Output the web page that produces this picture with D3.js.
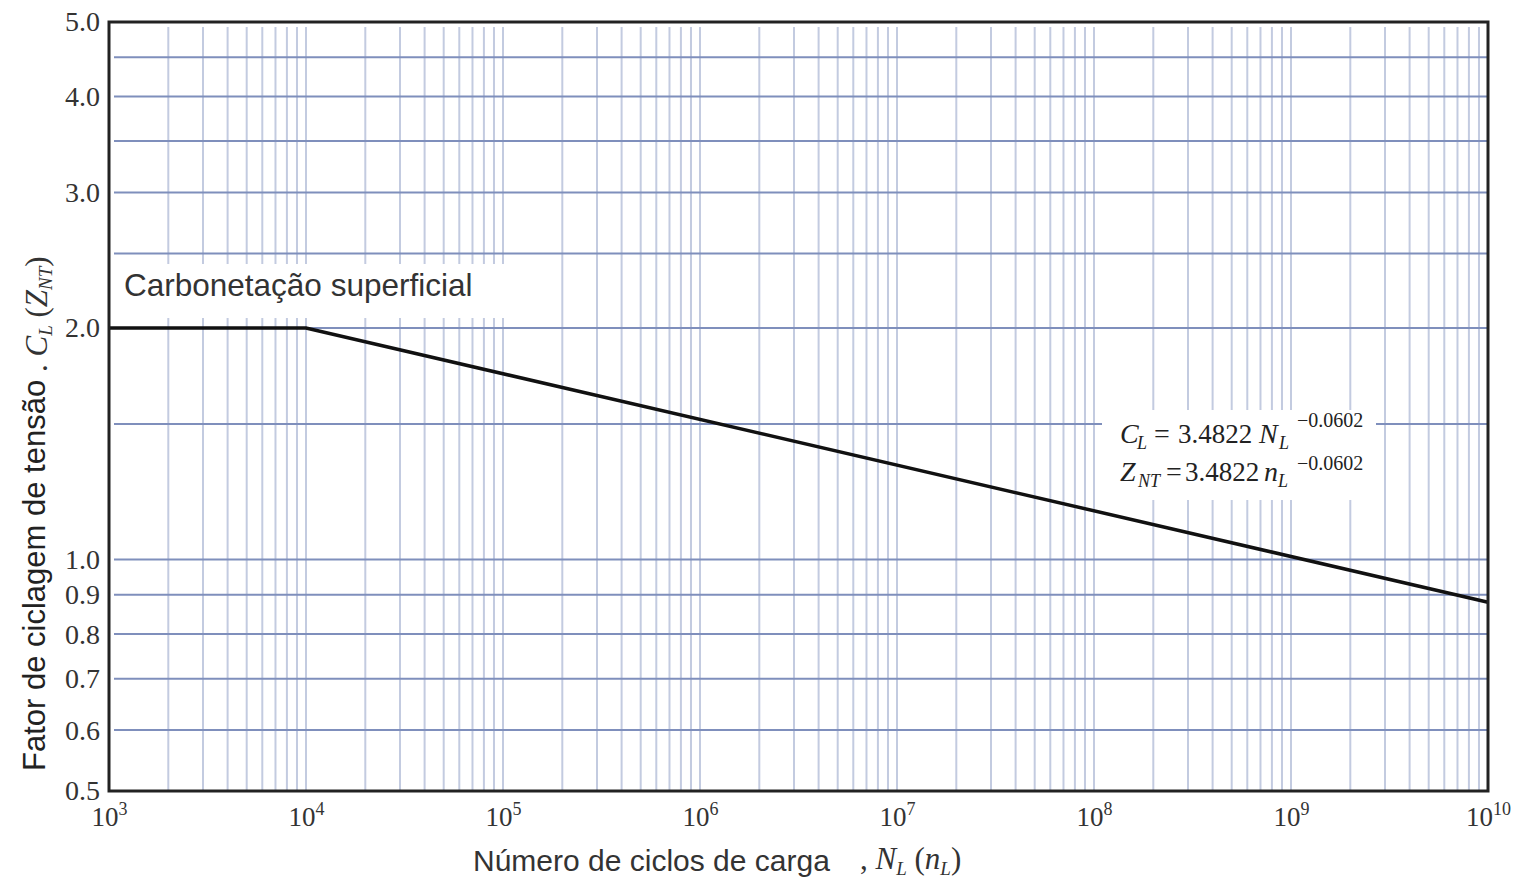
<!DOCTYPE html>
<head>
  <meta charset="utf-8">
  <script src="https://d3js.org/d3.v7.min.js"></script>
  <style>
    body { margin:0; background:#ffffff; }
    .tick text { font-family: "Liberation Serif", serif; fill:#333333; }
  </style>
</head>
<body>
  <script>
    // values
    var xDecades = [3, 4, 5, 6, 7, 8, 9, 10];
    var yTickValues = [0.5, 0.6, 0.7, 0.8, 0.9, 1.0, 2.0, 3.0, 4.0, 5.0];
    var yGridValues = [0.6, 0.7, 0.8, 0.9, 1.0, 1.5, 2.0, 2.5, 3.0, 3.5, 4.0, 4.5];
    var curveN = [1e3, 1e4, 1e10];
    var curveC = [2.0, 2.0, 0.88];

    var W = 1520, H = 882;
    var mLeft = 109, mRight = 1488, mTop = 22, mBottom = 791;
    var sans = "'Liberation Sans', Arial, sans-serif";
    var serif = "'Liberation Serif', 'Times New Roman', serif";

    var svg = d3.select("body").append("svg")
      .attr("width", W).attr("height", H);

    var x = d3.scaleLog().domain([1e3, 1e10]).range([mLeft, mRight]);
    var y = d3.scaleLog().domain([0.5, 5.0]).range([mBottom, mTop]);

    // vertical grid (1..9 x each decade)
    var xGrid = x.ticks().filter(function (d) { return d > 1e3 && d < 1e10; });
    svg.append("g").selectAll("line")
      .data(xGrid).enter().append("line")
      .attr("x1", function (d) { return x(d); })
      .attr("x2", function (d) { return x(d); })
      .attr("y1", mTop + 5).attr("y2", mBottom)
      .attr("stroke", "#c3cbe0").attr("stroke-width", 2);

    // horizontal grid
    svg.append("g").selectAll("line")
      .data(yGridValues).enter().append("line")
      .attr("x1", mLeft + 5).attr("x2", mRight)
      .attr("y1", function (d) { return y(d); })
      .attr("y2", function (d) { return y(d); })
      .attr("stroke", "#7f8fbc").attr("stroke-width", 2);

    // white patch behind label
    svg.append("rect")
      .attr("x", mLeft + 3).attr("y", 264).attr("width", 392).attr("height", 54)
      .attr("fill", "#ffffff");

    svg.append("text")
      .attr("x", 124).attr("y", 296)
      .style("font-family", sans)
      .style("font-size", "31.5px").attr("fill", "#333333")
      .text("Carbonetação superficial");

    // curve
    var pts = curveN.map(function (n, i) { return [n, curveC[i]]; });
    svg.append("path")
      .datum(pts)
      .attr("fill", "none").attr("stroke", "#111111").attr("stroke-width", 3.5)
      .attr("d", d3.line().x(function (d) { return x(d[0]); }).y(function (d) { return y(d[1]); }));

    // formula box
    svg.append("rect")
      .attr("x", 1102).attr("y", 410).attr("width", 274).attr("height", 90)
      .attr("fill", "#ffffff");

    function put(txt, px, py, size, italic) {
      svg.append("text").attr("x", px).attr("y", py)
        .style("font-family", serif).style("font-size", size + "px")
        .style("font-style", italic ? "italic" : "normal")
        .attr("fill", "#222222").text(txt);
    }
    // C_L = 3.4822 N_L^-0.0602
    put("C", 1120, 443, 28, true);
    put("L", 1137, 449, 18, true);
    put("=", 1154, 443, 28, false);
    put("3.4822", 1178, 443, 27, false);
    put("N", 1259, 443, 28, true);
    put("L", 1279, 449, 18, true);
    put("\u22120.0602", 1297, 427, 20, false);
    // Z_NT = 3.4822 n_L^-0.0602
    put("Z", 1120, 481, 28, true);
    put("NT", 1138, 487, 18, true);
    put("=", 1166, 481, 28, false);
    put("3.4822", 1185, 481, 27, false);
    put("n", 1264, 481, 28, true);
    put("L", 1278, 487, 18, true);
    put("\u22120.0602", 1297, 470, 20, false);

    // y axis
    var yAxis = svg.append("g")
      .attr("transform", "translate(" + mLeft + ",0)")
      .call(d3.axisLeft(y).tickValues(yTickValues).tickSize(0).tickPadding(9)
        .tickFormat(d3.format(".1f")));
    yAxis.select(".domain").remove();
    yAxis.selectAll("text").style("font-size", "28px");

    // x axis
    var xAxis = svg.append("g")
      .attr("transform", "translate(0," + mBottom + ")")
      .call(d3.axisBottom(x).tickValues(xDecades.map(function (e) { return Math.pow(10, e); }))
        .tickSize(0).tickPadding(16).tickFormat(""));
    xAxis.select(".domain").remove();
    xAxis.selectAll(".tick text")
      .data(xDecades)
      .style("font-size", "27px")
      .each(function (e) {
        var t = d3.select(this);
        t.append("tspan").text("10");
        t.append("tspan").attr("dy", -11).style("font-size", "18px").text(e);
      });

    // frame
    svg.append("rect")
      .attr("x", mLeft).attr("y", mTop)
      .attr("width", mRight - mLeft).attr("height", mBottom - mTop)
      .attr("fill", "none").attr("stroke", "#222222").attr("stroke-width", 3);

    // x axis title
    svg.append("text").attr("x", 473).attr("y", 871)
      .style("font-family", sans).style("font-size", "30px").attr("fill", "#333333")
      .text("Número de ciclos de carga");
    var xt = svg.append("text").attr("x", 860).attr("y", 869)
      .style("font-family", serif).style("font-size", "31px").attr("fill", "#333333");
    xt.append("tspan").text(", ");
    xt.append("tspan").style("font-style", "italic").text("N");
    xt.append("tspan").style("font-style", "italic").style("font-size", "19px").attr("dy", 6).text("L");
    xt.append("tspan").attr("dy", -6).text(" (");
    xt.append("tspan").style("font-style", "italic").text("n");
    xt.append("tspan").style("font-style", "italic").style("font-size", "19px").attr("dy", 6).text("L");
    xt.append("tspan").attr("dy", -6).text(")");

    // y axis title
    svg.append("text")
      .attr("transform", "translate(45,771) rotate(-90)")
      .style("font-family", sans).style("font-size", "31px").attr("fill", "#222222")
      .text("Fator de ciclagem de tensão");
    var yt = svg.append("text")
      .attr("transform", "translate(47,372) rotate(-90)")
      .style("font-family", serif).style("font-size", "31px").attr("fill", "#333333");
    yt.append("tspan").text(". ");
    yt.append("tspan").style("font-style", "italic").text("C");
    yt.append("tspan").style("font-style", "italic").style("font-size", "19px").attr("dy", 5).text("L");
    yt.append("tspan").attr("dy", -5).text(" (");
    yt.append("tspan").style("font-style", "italic").text("Z");
    yt.append("tspan").style("font-style", "italic").style("font-size", "19px").attr("dy", 5).text("NT");
    yt.append("tspan").attr("dy", -5).text(")");
  </script>
</body>
